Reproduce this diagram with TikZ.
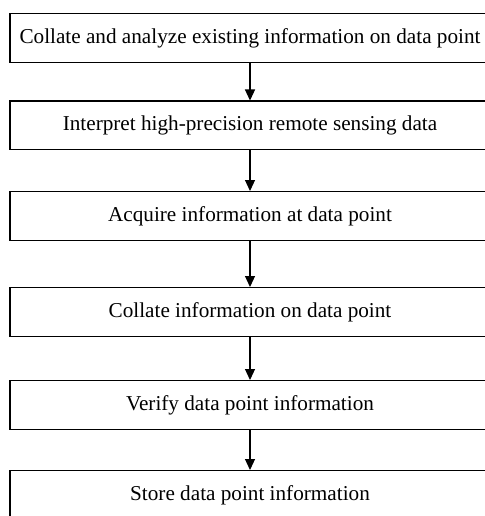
\documentclass[tikz,border=0pt]{standalone}
\usepackage{fontspec}
\setmainfont{Liberation Serif}
\usetikzlibrary{arrows.meta}
\begin{document}
\begin{tikzpicture}[x=1pt,y=-1pt,
  stepbox/.style={draw,line width=1.2pt,minimum width=480pt,minimum height=48.5pt,inner sep=0pt,font=\fontsize{21.2}{24}\selectfont,anchor=north},
  flow/.style={line width=1.2pt,-{Triangle[length=11pt,width=10pt]}}]
\useasboundingbox (0,0) rectangle (484,516);
\node[stepbox] (b1) at (250,13.3) {Collate and analyze existing information on data point};
\node[stepbox] (b2) at (250,100.5) {Interpret high-precision remote sensing data};
\node[stepbox] (b3) at (250,191) {Acquire information at data point};
\node[stepbox] (b4) at (250,287) {Collate information on data point};
\node[stepbox] (b5) at (250,380) {Verify data point information};
\node[stepbox] (b6) at (250,470) {Store data point information};
\draw[flow] (b1) -- (b2);
\draw[flow] (b2) -- (b3);
\draw[flow] (b3) -- (b4);
\draw[flow] (b4) -- (b5);
\draw[flow] (b5) -- (b6);
\end{tikzpicture}
\end{document}
